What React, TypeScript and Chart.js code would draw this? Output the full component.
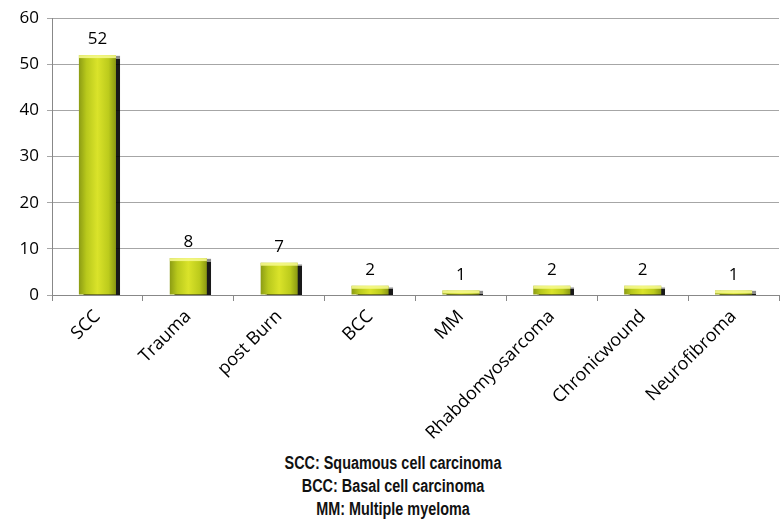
import React, { useEffect, useRef } from "react";
import { Chart, registerables } from "chart.js";

Chart.register(...registerables);

const categories = ["SCC", "Trauma", "post Burn", "BCC", "MM", "Rhabdomyosarcoma", "Chronicwound", "Neurofibroma"];
const counts = [52, 8, 7, 2, 1, 2, 2, 1];
const yTicks = [0, 10, 20, 30, 40, 50, 60];
const footnotes = ["SCC: Squamous cell carcinoma", "BCC: Basal cell carcinoma", "MM: Multiple myeloma"];

const FONT = "'Open Sans', 'Liberation Sans', sans-serif";

export default function App() {
  const ref = useRef<HTMLCanvasElement>(null);
  useEffect(() => {
    if (!ref.current) return;
    const shadowPlugin = {
      id: "shadow",
      beforeDatasetsDraw(chart: any) {
        const c = chart.ctx;
        c.save();
        c.shadowColor = "rgba(0,0,0,0.9)";
        c.shadowOffsetX = 4;
        c.shadowOffsetY = 1;
        c.shadowBlur = 1;
      },
      afterDatasetsDraw(chart: any) {
        const c = chart.ctx;
        c.restore();
        const meta = chart.getDatasetMeta(0);
        c.save();
        meta.data.forEach((bar: any, i: number) => {
          const w = bar.width;
          c.fillStyle = "rgba(245,248,140,0.9)";
          c.fillRect(bar.x - w / 2, bar.y, w, 3);
          c.fillStyle = "#000";
          c.font = `17px ${FONT}`;
          c.textAlign = "center";
          c.textBaseline = "bottom";
          c.fillText(String(counts[i]), bar.x, bar.y - 7);
        });
        c.restore();
      },
    };
    const chart = new Chart(ref.current, {
      type: "bar",
      data: {
        labels: categories,
        datasets: [
          {
            data: counts,
            backgroundColor: (ctx: any) => {
              const ch = ctx.chart;
              if (!ch.chartArea) return "#cfdc22";
              const x = ch.scales.x.getPixelForValue(ctx.dataIndex);
              const w = 37;
              const g = ch.ctx.createLinearGradient(x - w / 2, 0, x + w / 2, 0);
              g.addColorStop(0, "#8c9c14");
              g.addColorStop(0.2, "#b8c81c");
              g.addColorStop(0.5, "#dae32a");
              g.addColorStop(0.8, "#bccb1c");
              g.addColorStop(1, "#8a9812");
              return g;
            },
            borderWidth: 0,
            categoryPercentage: 0.8,
            barPercentage: 0.51,
          },
        ],
      },
      options: {
        animation: false,
        responsive: true,
        maintainAspectRatio: false,
        layout: { padding: { top: 15, right: 1, left: 0, bottom: 0 } },
        plugins: { legend: { display: false }, tooltip: { enabled: false } },
        scales: {
          x: {
            grid: { display: true, drawOnChartArea: false, drawTicks: true, tickLength: 6, color: "#888", offset: true },
            border: { color: "#888" },
            ticks: { maxRotation: 45, minRotation: 45, color: "#000", font: { size: 18, family: FONT }, padding: 5 },
            afterFit: (s: any) => { s.height = 145; },
          },
          y: {
            min: 0,
            max: 60,
            afterBuildTicks: (s: any) => { s.ticks = yTicks.map((v) => ({ value: v })); },
            grid: { color: "#a6a6a6", tickLength: 5 },
            border: { color: "#888" },
            ticks: { color: "#000", font: { size: 17, family: FONT }, padding: 8 },
            afterFit: (s: any) => { s.width = 52; },
          },
        },
      },
      plugins: [shadowPlugin],
    });
    return () => chart.destroy();
  }, []);
  return (
    <div style={{ position: "absolute", left: 0, top: 0, width: 780, height: 529, background: "#fff" }}>
      <div style={{ position: "relative", width: 780, height: 440 }}>
        <canvas ref={ref} />
      </div>
      <div
        style={{
          position: "absolute",
          top: 452,
          left: 0,
          width: 786,
          textAlign: "center",
          fontFamily: "'Liberation Sans', Arial, sans-serif",
          fontWeight: "bold",
          fontSize: 18,
          lineHeight: "23px",
          color: "#111",
          transform: "scaleX(0.8)",
          transformOrigin: "393px 0",
        }}
      >
        {footnotes.map((f) => (
          <div key={f}>{f}</div>
        ))}
      </div>
    </div>
  );
}
